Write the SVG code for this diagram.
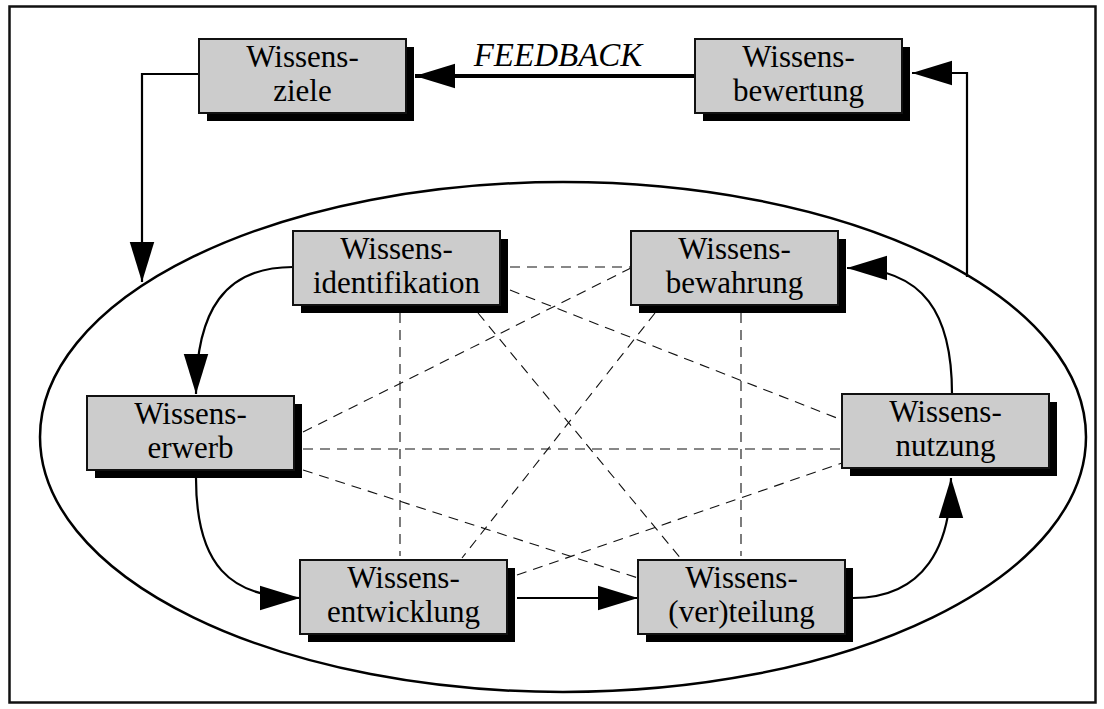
<svg xmlns="http://www.w3.org/2000/svg" width="1104" height="709" viewBox="0 0 1104 709">
<defs>
<style>
.shadow{fill:#000}
.box{fill:#cccccc;stroke:#111;stroke-width:2}
.lbl{font-size:31px;fill:#000;text-anchor:middle}
.conn{fill:none;stroke:#000;stroke-width:2.2}
.dash{fill:none;stroke:#111;stroke-width:1.1;stroke-dasharray:10 7}
</style>
<marker id="ah" markerUnits="userSpaceOnUse" markerWidth="40" markerHeight="26" viewBox="0 0 36 22" refX="36" refY="11" orient="auto">
<path d="M0,0 L36,11 L0,22 z" fill="#000"/>
</marker>
</defs>
<rect x="0" y="0" width="1104" height="709" fill="#fff"/>
<rect x="9.5" y="6.5" width="1086" height="696" fill="none" stroke="#111" stroke-width="2.5"/>
<ellipse cx="563" cy="437" rx="523" ry="255" fill="none" stroke="#000" stroke-width="2.5"/>

<g id="dashed">
<line class="dash" x1="510" y1="267" x2="631" y2="267"/>
<line class="dash" x1="400" y1="313" x2="400" y2="556"/>
<line class="dash" x1="741" y1="313" x2="741" y2="556"/>
<line class="dash" x1="303" y1="449" x2="842" y2="449"/>
<line class="dash" x1="303" y1="432" x2="631" y2="268"/>
<line class="dash" x1="510" y1="290" x2="842" y2="420"/>
<line class="dash" x1="478" y1="313" x2="682" y2="560"/>
<line class="dash" x1="655" y1="313" x2="462" y2="558"/>
<line class="dash" x1="303" y1="470" x2="638" y2="578"/>
<line class="dash" x1="517" y1="575" x2="842" y2="463"/>
</g>

<g id="connectors">
<path class="conn" d="M199,74 L142,74 L142,282" marker-end="url(#ah)"/>
<path class="conn" d="M695,76 L415,76" style="stroke-width:4" marker-end="url(#ah)"/>
<path class="conn" d="M967,277 L967,73 L912,73" marker-end="url(#ah)"/>
<path class="conn" d="M293,267 C225,267 196,310 196,394" marker-end="url(#ah)"/>
<path class="conn" d="M196,478 C196,565 230,598 300,598" marker-end="url(#ah)"/>
<path class="conn" d="M517,598 L638,598" marker-end="url(#ah)"/>
<path class="conn" d="M853,598 C925,598 951,545 951,478" marker-end="url(#ah)"/>
<path class="conn" d="M952,394 C952,315 925,268 847,268" marker-end="url(#ah)"/>
</g>

<text x="558" y="66" font-family="Liberation Serif, Times New Roman, serif" font-size="33" font-style="italic" text-anchor="middle" fill="#000">FEEDBACK</text>

<g font-family="Liberation Serif, Times New Roman, serif">
<g id="n-ziele"><rect class="shadow" x="207" y="47" width="207" height="74"/><rect class="box" x="199" y="39" width="207" height="74"/><text class="lbl" x="302.5" y="67">Wissens-</text><text class="lbl" x="302.5" y="101">ziele</text></g>
<g id="n-bewertung"><rect class="shadow" x="703" y="47" width="207" height="74"/><rect class="box" x="695" y="39" width="207" height="74"/><text class="lbl" x="798.5" y="67">Wissens-</text><text class="lbl" x="798.5" y="101">bewertung</text></g>
<g id="n-identifikation"><rect class="shadow" x="301" y="239" width="207" height="74"/><rect class="box" x="293" y="231" width="207" height="74"/><text class="lbl" x="396.5" y="259">Wissens-</text><text class="lbl" x="396.5" y="293">identifikation</text></g>
<g id="n-bewahrung"><rect class="shadow" x="639" y="239" width="207" height="74"/><rect class="box" x="631" y="231" width="207" height="74"/><text class="lbl" x="734.5" y="259">Wissens-</text><text class="lbl" x="734.5" y="293">bewahrung</text></g>
<g id="n-erwerb"><rect class="shadow" x="95" y="404" width="207" height="74"/><rect class="box" x="87" y="396" width="207" height="74"/><text class="lbl" x="190.5" y="424">Wissens-</text><text class="lbl" x="190.5" y="458">erwerb</text></g>
<g id="n-nutzung"><rect class="shadow" x="850" y="402" width="207" height="74"/><rect class="box" x="842" y="394" width="207" height="74"/><text class="lbl" x="945.5" y="422">Wissens-</text><text class="lbl" x="945.5" y="456">nutzung</text></g>
<g id="n-entwicklung"><rect class="shadow" x="308" y="568" width="207" height="74"/><rect class="box" x="300" y="560" width="207" height="74"/><text class="lbl" x="403.5" y="588">Wissens-</text><text class="lbl" x="403.5" y="622">entwicklung</text></g>
<g id="n-teilung"><rect class="shadow" x="646" y="568" width="207" height="74"/><rect class="box" x="638" y="560" width="207" height="74"/><text class="lbl" x="741.5" y="588">Wissens-</text><text class="lbl" x="741.5" y="622">(ver)teilung</text></g>
</g>
</svg>
